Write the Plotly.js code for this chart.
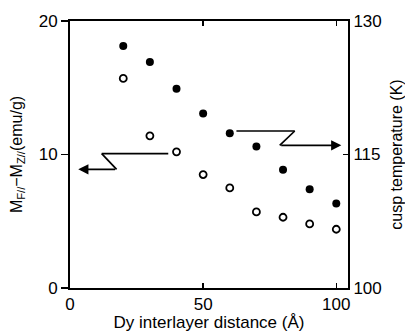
<!DOCTYPE html>
<html>
<head>
<meta charset="utf-8">
<script src="https://cdn.plot.ly/plotly-3.0.1.min.js"></script>
<style>html,body{margin:0;padding:0;background:#fff}#chart{width:405px;height:332px}</style>
</head>
<body>
<div id="chart"></div>
<script>
// Dy interlayer distance (Å)
const distance = [20, 30, 40, 50, 60, 70, 80, 90, 100];
// open circles: M_F// - M_Z// (emu/g), left axis
const magnetDiff = [15.7, 11.4, 10.2, 8.5, 7.5, 5.7, 5.3, 4.8, 4.4];
// filled circles: cusp temperature (K), right axis
const cuspTemp = [127.2, 125.4, 122.4, 119.6, 117.4, 115.9, 113.3, 111.1, 109.5];

const xTicks = [0, 50, 100];
const yLeftTicks = [0, 10, 20];
const yRightTicks = [100, 115, 130];

// guide arrows (data coordinates)
const leftArrowX = [36.9, 11.9, 17.5, 3.1];
const leftArrowY = [10.06, 10.06, 8.89, 8.89];
const rightArrowX = [62.5, 84.4, 78.75, 101.9];
const rightArrowY = [117.64, 117.64, 116.03, 116.03];

const font = {family: 'Liberation Sans, Arial, sans-serif', size: 17, color: '#000'};
const titleFont = {family: 'Liberation Sans, Arial, sans-serif', size: 16, color: '#000'};

const traces = [
  {x: distance, y: magnetDiff, type: 'scatter', mode: 'markers', yaxis: 'y',
   marker: {symbol: 'circle-open', size: 7, color: '#000', line: {width: 1.8, color: '#000'}}},
  {x: distance, y: cuspTemp, type: 'scatter', mode: 'markers', yaxis: 'y2',
   marker: {symbol: 'circle', size: 8, color: '#000'}}
];

function seg(xs, ys, i, j, yref) {
  return {type: 'line', xref: 'x', yref: yref, x0: xs[i], y0: ys[i], x1: xs[j], y1: ys[j],
          line: {color: '#000', width: 1.7}};
}

const shapes = [
  seg(leftArrowX, leftArrowY, 0, 1, 'y'),
  seg(leftArrowX, leftArrowY, 1, 2, 'y'),
  seg(rightArrowX, rightArrowY, 0, 1, 'y2'),
  seg(rightArrowX, rightArrowY, 1, 2, 'y2')
];

const annotations = [
  {x: leftArrowX[3], y: leftArrowY[3], xref: 'x', yref: 'y', ax: leftArrowX[2], ay: leftArrowY[2],
   axref: 'x', ayref: 'y', showarrow: true, arrowhead: 2, arrowsize: 1.2, arrowwidth: 1.7, arrowcolor: '#000', text: ''},
  {x: rightArrowX[3], y: rightArrowY[3], xref: 'x', yref: 'y2', ax: rightArrowX[2], ay: rightArrowY[2],
   axref: 'x', ayref: 'y2', showarrow: true, arrowhead: 2, arrowsize: 1.2, arrowwidth: 1.7, arrowcolor: '#000', text: ''}
];

const layout = {
  width: 405, height: 332,
  margin: {l: 70, r: 57, t: 21, b: 44},
  paper_bgcolor: '#fff', plot_bgcolor: '#fff',
  showlegend: false,
  font: font,
  xaxis: {
    range: [0, 104.4], tickvals: xTicks, ticktext: xTicks.map(String),
    ticks: 'inside', ticklen: 5, tickwidth: 1.5, tickcolor: '#000',
    showline: true, linecolor: '#000', linewidth: 2, mirror: 'ticks',
    showgrid: false, zeroline: false, tickfont: font,
    title: {text: 'Dy interlayer distance (Å)', font: font, standoff: 0}
  },
  yaxis: {
    range: [0, 20], tickvals: yLeftTicks, ticktext: yLeftTicks.map(String),
    ticks: 'outside', ticklen: 7, tickwidth: 1.5, tickcolor: '#000',
    showline: true, linecolor: '#000', linewidth: 2,
    showgrid: false, zeroline: false, tickfont: font,
    title: {text: 'M<sub>F//</sub>−M<sub>Z//</sub>(emu/g)', font: titleFont, standoff: 12}
  },
  yaxis2: {
    range: [100, 130], tickvals: yRightTicks, ticktext: yRightTicks.map(String),
    overlaying: 'y', side: 'right',
    ticks: 'inside', ticklen: 5, tickwidth: 1.5, tickcolor: '#000',
    showline: true, linecolor: '#000', linewidth: 2,
    showgrid: false, zeroline: false, tickfont: font,
    title: {text: 'cusp temperature (K)', font: titleFont, standoff: 14}
  },
  shapes: shapes,
  annotations: annotations
};

Plotly.newPlot('chart', traces, layout, {displayModeBar: false, staticPlot: true});
</script>
</body>
</html>
